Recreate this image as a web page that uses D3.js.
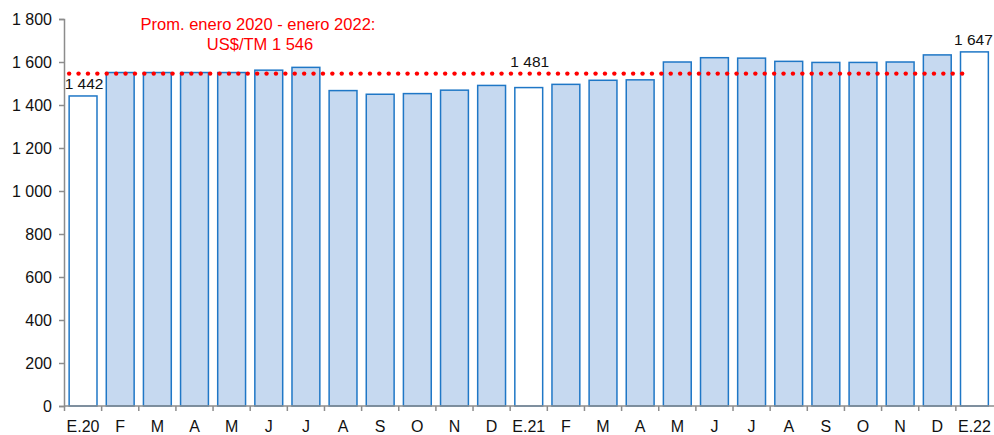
<!DOCTYPE html>
<html>
<head>
<meta charset="utf-8">
<script src="https://cdn.jsdelivr.net/npm/d3@7"></script>
<style>
  body { margin: 0; background: #fff; }
  text { font-family: "Liberation Sans", Arial, sans-serif; }
</style>
</head>
<body>
<script>
var months = ["E.20", "F", "M", "A", "M", "J", "J", "A", "S", "O", "N", "D",
              "E.21", "F", "M", "A", "M", "J", "J", "A", "S", "O", "N", "D", "E.22"];
var prices = [1442, 1551, 1551, 1551, 1551, 1562, 1575, 1467, 1450, 1453, 1469, 1491,
              1481, 1496, 1515, 1517, 1600, 1620, 1618, 1603, 1598, 1598, 1600, 1633, 1647];
var average = 1546;
var yTicks = [0, 200, 400, 600, 800, 1000, 1200, 1400, 1600, 1800];
// bars shown with value label (white bars)
var labelled = [0, 12, 24];

var width = 994, height = 435;
var margin = { top: 19, right: 0, bottom: 29, left: 64 };

var svg = d3.select("body").append("svg").attr("width", width).attr("height", height);

var x = d3.scaleBand().domain(d3.range(months.length))
  .range([margin.left + 0.5, width - 1]).paddingInner(0.25).paddingOuter(0.125);
var y = d3.scaleLinear().domain([0, 1800]).range([height - margin.bottom, margin.top]);

var fmt = function (d) { return d3.format(",")(d).replace(/,/g, " "); };

// y axis
var yAxis = svg.append("g").attr("transform", "translate(" + margin.left + ",0)")
  .call(d3.axisLeft(y).tickValues(yTicks).tickSize(5).tickPadding(7).tickFormat(fmt));
yAxis.select(".domain").attr("stroke", "#8c8c8c").attr("stroke-width", 1.5);
yAxis.selectAll(".tick line").attr("stroke", "#8c8c8c").attr("stroke-width", 1.5);
yAxis.selectAll(".tick text").attr("font-size", 16).attr("fill", "#111")
  .attr("font-family", "Liberation Sans, Arial, sans-serif");

// bars
svg.selectAll("rect.bar").data(prices).enter().append("rect")
  .attr("class", "bar")
  .attr("x", function (d, i) { return x(i); })
  .attr("width", x.bandwidth())
  .attr("y", function (d) { return y(d); })
  .attr("height", function (d) { return y(0) - y(d); })
  .attr("fill", function (d, i) { return labelled.indexOf(i) >= 0 ? "#ffffff" : "#c6d9f0"; })
  .attr("stroke", "#1f77c6")
  .attr("stroke-width", 1.5);

// x axis
var step = x.step();
var xAxisG = svg.append("g").attr("transform", "translate(0," + y(0) + ")");
xAxisG.append("line").attr("x1", margin.left).attr("x2", width).attr("y1", 0).attr("y2", 0)
  .attr("stroke", "#8c8c8c").attr("stroke-width", 1.5);
xAxisG.selectAll("line.tk").data(d3.range(months.length)).enter().append("line")
  .attr("class", "tk")
  .attr("x1", function (i) { return x(i) - (step - x.bandwidth()) / 2; })
  .attr("x2", function (i) { return x(i) - (step - x.bandwidth()) / 2; })
  .attr("y1", 0).attr("y2", 5)
  .attr("stroke", "#8c8c8c").attr("stroke-width", 1.5);
xAxisG.selectAll("text").data(months).enter().append("text")
  .attr("x", function (d, i) { return x(i) + x.bandwidth() / 2; })
  .attr("y", 22)
  .attr("dominant-baseline", "middle")
  .attr("text-anchor", "middle")
  .attr("font-size", 16)
  .attr("fill", "#111")
  .text(function (d) { return d; });

// average dotted line
var dotsX = d3.range(x(0), x(months.length - 1) + 5, 9.4);
svg.selectAll("circle.avg").data(dotsX).enter().append("circle")
  .attr("class", "avg")
  .attr("cx", function (d) { return d; })
  .attr("cy", y(average))
  .attr("r", 2.2)
  .attr("fill", "#ff0000");

// value labels
svg.selectAll("text.val").data(labelled).enter().append("text")
  .attr("class", "val")
  .attr("x", function (i) { return x(i) + x.bandwidth() / 2 + (i === 24 ? -1 : 1); })
  .attr("y", function (i) { return i === 12 ? y(average) - 7 : y(prices[i]) - 7; })
  .attr("text-anchor", "middle")
  .attr("font-size", 15.5)
  .attr("fill", "#111")
  .text(function (i) { return fmt(prices[i]); });

// annotation
var ann = svg.append("text").attr("x", 258).attr("y", 30).attr("text-anchor", "middle")
  .attr("font-size", 16.5).attr("fill", "#ff0000");
ann.append("tspan").attr("x", 258).attr("dy", 0).text("Prom. enero 2020 - enero 2022:");
ann.append("tspan").attr("x", 260).attr("dy", 20).text("US$/TM " + fmt(average));
</script>
</body>
</html>
